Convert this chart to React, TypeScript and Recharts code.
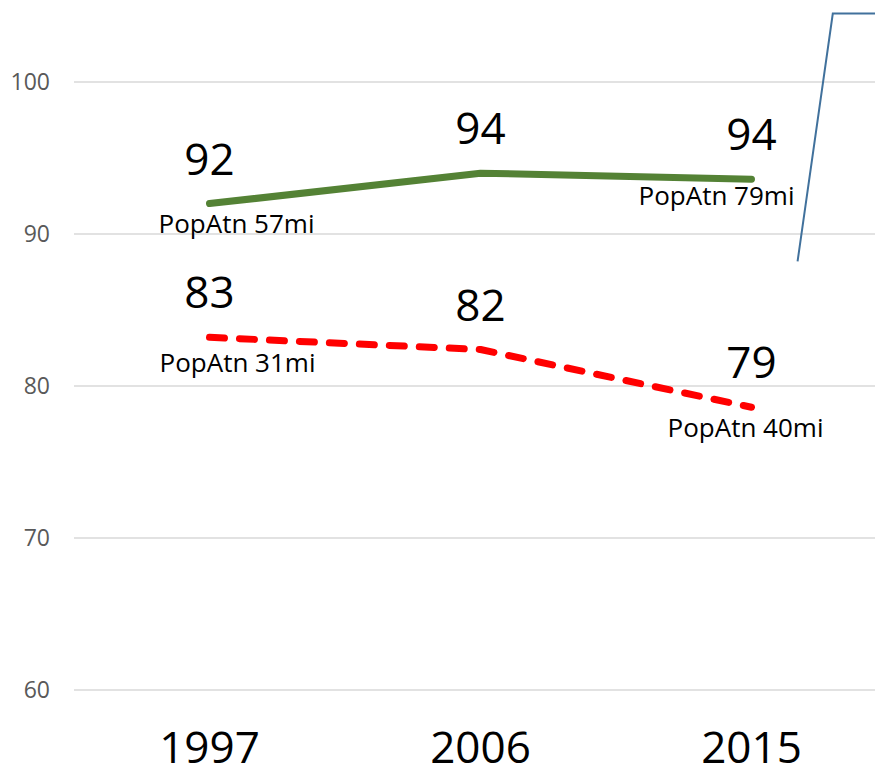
import React from 'react';
import { LineChart, Line, XAxis, YAxis, CartesianGrid } from 'recharts';

const years = ['1997', '2006', '2015'];
const greenValues = [92.0, 94.0, 93.6];
const redValues = [83.2, 82.4, 78.6];
const greenNotes = ['PopAtn 57mi', '', 'PopAtn 79mi'];
const redNotes = ['PopAtn 31mi', '', 'PopAtn 40mi'];
const yTicks = [60, 70, 80, 90, 100];

// stray connector line at the right edge, in category units / y values
const blueX = [2.67, 2.8, 3.0];
const blueY = [88.2, 104.5, 104.5];

// label placement relative to each point (style, not data)
const greenNoteOffsets = [[27, 20], [0, 0], [-35, 17]];
const redNoteOffsets = [[28, 26], [0, 0], [-6, 21]];

const FONT = '"Open Sans", sans-serif';

const data = years.map((year, i) => ({
  pos: i + 0.5,
  year,
  green: greenValues[i],
  red: redValues[i],
}));

const blueData = blueX.map((x, i) => ({ pos: x, blue: blueY[i] }));

const makeLabel = (notes: string[], offsets: number[][]) => (props: any) => {
  const { x, y, index, value } = props;
  if (x == null || y == null) return null;
  const [dx, dy] = offsets[index] || [0, 0];
  return (
    <g key={`lbl-${index}`}>
      <text x={x} y={y - 29} textAnchor="middle" fontSize={44} fontFamily={FONT} fill="#000">
        {Math.round(value)}
      </text>
      {notes[index] && (
        <text x={x + dx} y={y + dy + 9} textAnchor="middle" fontSize={26} fontFamily={FONT} fill="#000">
          {notes[index]}
        </text>
      )}
    </g>
  );
};

export default function App() {
  return (
    <div
      style={{
        position: 'absolute',
        left: 0,
        top: 0,
        width: 875,
        height: 774,
        overflow: 'hidden',
        background: '#fff',
      }}
    >
      <LineChart width={900} height={774} data={data} margin={{ top: 6, right: 13, left: 0, bottom: 0 }}>
        <CartesianGrid
          vertical={false}
          horizontalValues={yTicks}
          syncWithTicks
          stroke="#d9d9d9"
          strokeWidth={1.3}
        />
        <XAxis
          dataKey="pos"
          type="number"
          domain={[0, 3]}
          ticks={[0.5, 1.5, 2.5]}
          interval={0}
          tickFormatter={(v: number) => years[Math.floor(v)]}
          axisLine={false}
          tickLine={false}
          tickSize={0}
          tickMargin={42}
          height={84}
          tick={{ fontSize: 44, fill: '#000', fontFamily: FONT }}
        />
        <YAxis
          domain={[60, 105]}
          ticks={yTicks}
          interval={0}
          axisLine={false}
          tickLine={false}
          tickSize={0}
          tickMargin={24}
          width={74}
          tick={{ fontSize: 23, fill: '#595959', fontFamily: FONT }}
        />
        <Line
          dataKey="green"
          stroke="#548235"
          strokeWidth={7}
          strokeLinecap="round"
          strokeLinejoin="round"
          dot={false}
          isAnimationActive={false}
          label={makeLabel(greenNotes, greenNoteOffsets)}
        />
        <Line
          dataKey="red"
          stroke="#ff0000"
          strokeWidth={7}
          strokeDasharray="15 15"
          strokeLinecap="round"
          strokeLinejoin="round"
          dot={false}
          isAnimationActive={false}
          label={makeLabel(redNotes, redNoteOffsets)}
        />
        <Line
          data={blueData}
          dataKey="blue"
          stroke="#41719c"
          strokeWidth={2}
          dot={false}
          isAnimationActive={false}
        />
      </LineChart>
    </div>
  );
}
